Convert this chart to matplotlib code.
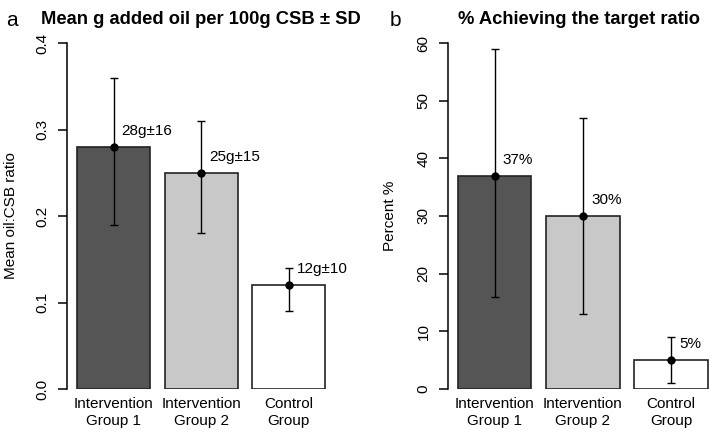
import matplotlib
matplotlib.use("Agg")
import matplotlib.pyplot as plt
import numpy as np

plt.rcParams["font.family"] = ["Liberation Sans", "DejaVu Sans"]

# data
groups = ["Intervention\nGroup 1", "Intervention\nGroup 2", "Control\nGroup"]
bar_colors = ["#555555", "#c8c8c8", "#ffffff"]

oil_mean = [0.28, 0.25, 0.12]
oil_low = [0.19, 0.18, 0.09]
oil_high = [0.36, 0.31, 0.14]
oil_text = ["28g\u00b116", "25g\u00b115", "12g\u00b110"]

pct_mean = [37, 30, 5]
pct_low = [16, 13, 1]
pct_high = [59, 47, 9]
pct_text = ["37%", "30%", "5%"]

W, H = 709, 432
fig = plt.figure(figsize=(W / 100, H / 100), dpi=100)

x = np.array([0.7, 1.9, 3.1])


def panel(rect, means, lows, highs, texts, ylim, yticks, yticklabels,
          ylabel, title, letter, letter_x, xlim, labelpad):
    ax = fig.add_axes(rect)
    means = np.array(means)
    err = [means - np.array(lows), np.array(highs) - means]
    ax.bar(x, means, width=1.0, color=bar_colors, edgecolor="#222222",
           linewidth=1.2, zorder=2)
    ax.errorbar(x, means, yerr=err, fmt="o", color="black", ms=5,
                elinewidth=1.0, capsize=2.8, capthick=1.0, zorder=3)
    for xi, m, t in zip(x, means, texts):
        ax.annotate(t, (xi, m), xytext=(5.8, 11.5), textcoords="offset points",
                    ha="left", va="center", fontsize=11)
    ax.set_xlim(*xlim)
    ax.set_ylim(*ylim)
    ax.set_yticks(yticks)
    ax.set_yticklabels(yticklabels, rotation=90, va="center")
    ax.tick_params(axis="y", length=6.5, width=1.1, pad=6, labelsize=11)
    ax.set_xticks(x)
    ax.set_xticklabels(groups, fontsize=11, linespacing=1.2)
    ax.tick_params(axis="x", length=0, pad=6)
    for s in ["top", "right", "bottom"]:
        ax.spines[s].set_visible(False)
    ax.spines["left"].set_linewidth(1.1)
    ax.set_ylabel(ylabel, fontsize=11, labelpad=labelpad)
    ax.patch.set_visible(False)
    cx = rect[0] + rect[2] / 2
    fig.text(cx, 1 - 20 / H, title, ha="center", va="center",
             fontsize=13.2, fontweight="bold")
    fig.text(letter_x / W, 1 - 21 / H, letter, ha="center", va="center",
             fontsize=15)
    return ax


bottom = (H - 389) / H
height = 346 / H

panel([67 / W, bottom, 268 / W, height], oil_mean, oil_low, oil_high, oil_text,
      (0, 0.4), [0, 0.1, 0.2, 0.3, 0.4], ["0.0", "0.1", "0.2", "0.3", "0.4"],
      "Mean oil:CSB ratio", "Mean g added oil per 100g CSB \u00b1 SD", "a", 12,
      (0.063, 3.734), 13)

panel([448 / W, bottom, 261 / W, height], pct_mean, pct_low, pct_high, pct_text,
      (0, 60), [0, 10, 20, 30, 40, 50, 60], ["0", "10", "20", "30", "40", "50", "60"],
      "Percent %", "% Achieving the target ratio", "b", 395,
      (0.064, 3.615), 14)

fig.savefig("out.png", dpi=100)
